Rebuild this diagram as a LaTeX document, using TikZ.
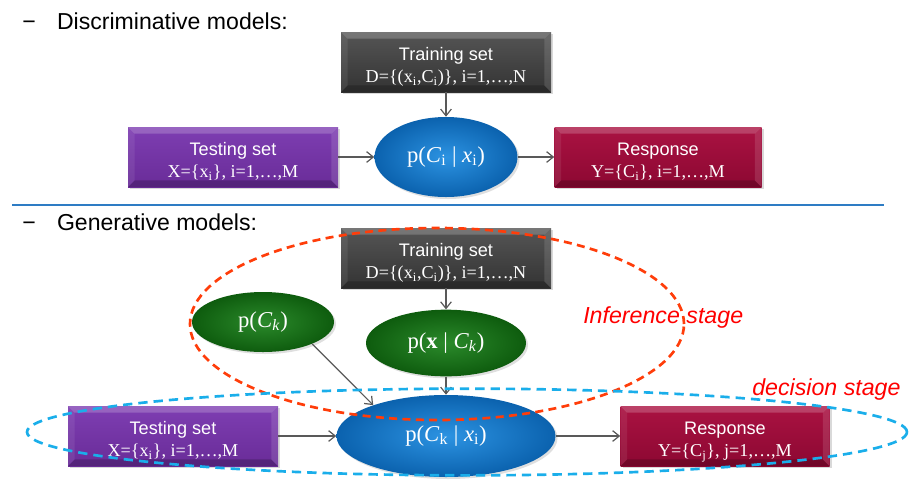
\documentclass[tikz,border=0pt]{standalone}
\usepackage{fontspec}
\setmainfont{Liberation Sans}
\newfontfamily\serif{Liberation Serif}
\usetikzlibrary{arrows.meta,shadows,shapes.geometric,positioning}

\definecolor{trainTop}{HTML}{555555}
\definecolor{trainBot}{HTML}{333333}
\definecolor{testTop}{HTML}{7E3EB2}
\definecolor{testBot}{HTML}{692C98}
\definecolor{respTop}{HTML}{AA1242}
\definecolor{respBot}{HTML}{8C0832}
\definecolor{postIn}{HTML}{2C93E2}
\definecolor{postOut}{HTML}{0B62AE}
\definecolor{probIn}{HTML}{2B8A2B}
\definecolor{probOut}{HTML}{0E5C0E}
\definecolor{arrowGray}{HTML}{595959}
\definecolor{ruleBlue}{HTML}{2E7CC4}
\definecolor{inferRed}{HTML}{FF3D0A}
\definecolor{decideBlue}{HTML}{1AAEEA}

% two-line text of a set box, set a little low as in the slide
\newcommand{\settext}[2]{\raisebox{-3.75pt}[\height][\depth]{\begin{tabular}{@{}c@{}}#1\\{\serif #2}\end{tabular}}}

\tikzset{
  bevel/.style={path picture={
    \fill[white, opacity=0.2] (path picture bounding box.north west) -- (path picture bounding box.north east)
      -- ([xshift=-5pt,yshift=-5pt]path picture bounding box.north east) -- ([xshift=5pt,yshift=-5pt]path picture bounding box.north west) -- cycle;
    \fill[white, opacity=0.08] (path picture bounding box.north west) -- ([xshift=5pt,yshift=-5pt]path picture bounding box.north west)
      -- ([xshift=5pt,yshift=5pt]path picture bounding box.south west) -- (path picture bounding box.south west) -- cycle;
    \fill[black, opacity=0.2] (path picture bounding box.south west) -- (path picture bounding box.south east)
      -- ([xshift=-5pt,yshift=5pt]path picture bounding box.south east) -- ([xshift=5pt,yshift=5pt]path picture bounding box.south west) -- cycle;
    \fill[white, opacity=0.12] (path picture bounding box.north east) -- ([xshift=-5pt,yshift=-5pt]path picture bounding box.north east)
      -- ([xshift=-5pt,yshift=5pt]path picture bounding box.south east) -- (path picture bounding box.south east) -- cycle;
  }},
  set box/.style={rectangle, draw=none, inner sep=0pt, text=white, bevel,
    minimum width=157.5pt, minimum height=45pt,
    font=\fontsize{13.6}{16.5}\selectfont,
    drop shadow={opacity=0.3, shadow xshift=1.5pt, shadow yshift=-1.5pt}},
  train box/.style={set box, top color=trainTop, bottom color=trainBot},
  test box/.style={set box, top color=testTop, bottom color=testBot},
  resp box/.style={set box, top color=respTop, bottom color=respBot},
  prob node/.style={ellipse, draw=none, inner sep=0pt, text=white,
    font=\serif\fontsize{17}{20}\selectfont,
    drop shadow={opacity=0.25, shadow xshift=1.5pt, shadow yshift=-1.5pt}},
  post node/.style={prob node, inner color=postIn, outer color=postOut},
  green node/.style={prob node, inner color=probIn, outer color=probOut},
  flow/.style={draw=arrowGray, line width=0.9pt, -{Straight Barb[length=5pt,width=8pt]}},
  head/.style={anchor=base west, inner sep=0pt, font=\fontsize{17.3}{20}\selectfont},
  stage label/.style={anchor=base west, inner sep=0pt, font=\itshape\fontsize{17.4}{20}\selectfont}
}

\begin{document}
\begin{tikzpicture}[x=0.75pt, y=-0.75pt]
  \useasboundingbox (0,0) rectangle (922,487);

  % discriminative models
  \node[head] (discHead) at (22,29) {−\hspace{16pt}Discriminative models:};

  \node[train box] (train1) at (446,62) {\settext{Training set}{D=\{(x\textsubscript{i},C\textsubscript{i})\}, i=1,…,N}};
  \node[test box] (test1) at (233,157) {\settext{Testing set}{X=\{x\textsubscript{i}\}, i=1,…,M}};
  \node[post node, minimum width=107.25pt, minimum height=60pt] (post1) at (446,157)
    {p(\textit{C}\textsubscript{i} | \textit{x}\textsubscript{i})};
  \node[resp box, minimum width=155.25pt] (resp1) at (658,157) {\settext{Response}{Y=\{C\textsubscript{i}\}, i=1,…,M}};

  \draw[flow] (train1) -- (post1);
  \draw[flow] (test1) -- (post1);
  \draw[flow] (post1) -- (resp1);

  \draw[ruleBlue, line width=1.5pt] (12,205) -- (884,205);

  % generative models
  \node[head] (genHead) at (22,230) {−\hspace{16pt}Generative models:};

  \node[train box] (train2) at (446,258) {\settext{Training set}{D=\{(x\textsubscript{i},C\textsubscript{i})\}, i=1,…,N}};
  \node[green node, minimum width=106.5pt, minimum height=45pt] (prior) at (263,322)
    {p(\textit{C}\textsubscript{\textit{k}})};
  \node[green node, minimum width=120pt, minimum height=50pt] (like) at (446,343)
    {p(\textbf{x} | \textit{C}\textsubscript{\textit{k}})};
  \node[post node, minimum width=164.25pt, minimum height=61.5pt] (post2) at (446,436)
    {p(\textit{C}\textsubscript{k} | \textit{x}\textsubscript{i})};
  \node[test box] (test2) at (173,436) {\settext{Testing set}{X=\{x\textsubscript{i}\}, i=1,…,M}};
  \node[resp box, minimum width=156.75pt] (resp2) at (725,436) {\settext{Response}{Y=\{C\textsubscript{j}\}, j=1,…,M}};

  \draw[flow] (train2) -- (like);
  \draw[flow] (like) -- (post2);
  \draw[flow] (prior.-24) -- (post2.157);
  \draw[flow] (test2) -- (post2);
  \draw[flow] (post2) -- (resp2);

  % stages
  \draw[inferRed, line width=2pt, dash pattern=on 6pt off 4pt] (437,324) ellipse [x radius=185.25pt, y radius=72pt];
  \draw[decideBlue, line width=2pt, dash pattern=on 7pt off 4.5pt] (467,432) ellipse [x radius=330pt, y radius=32.5pt];

  \node[stage label, text=red] (inferLbl) at (583,323) {Inference stage};
  \node[stage label, text=red] (decideLbl) at (752,395) {decision stage};
\end{tikzpicture}
\end{document}
